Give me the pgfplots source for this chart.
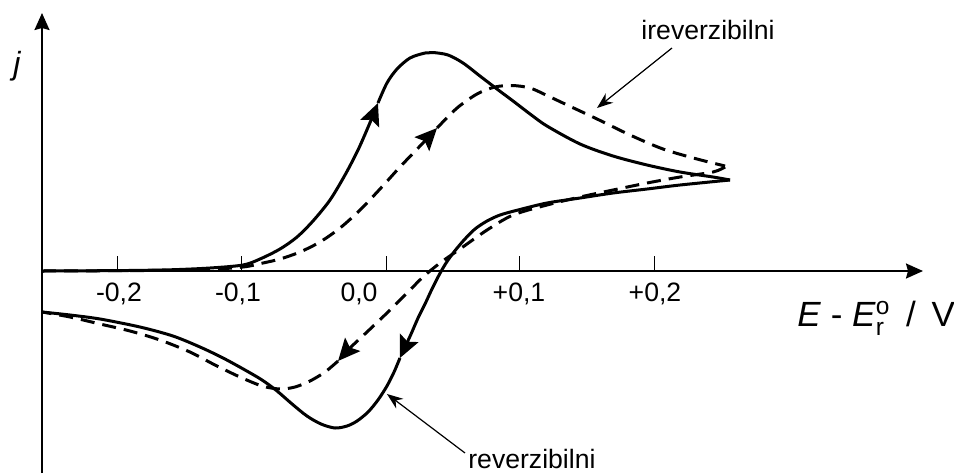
\documentclass[border=0pt]{standalone}
\usepackage{pgfplots}
\pgfplotsset{compat=1.18}
\usepackage{amsmath}
\usepackage{fontspec}
\setmainfont{Liberation Sans}
\usetikzlibrary{arrows.meta}

\begin{document}
\begin{tikzpicture}
\path[use as bounding box] (0,0) rectangle (477bp,-237.5bp);
\begin{axis}[
  at={(21bp,-236.5bp)}, anchor=south west,
  scale only axis, width=440.5bp, height=230bp,
  xmin=-0.2567, xmax=0.4007, ymin=-2.02, ymax=2.58,
  axis x line=middle, axis y line=left,
  axis line style={line width=1bp, -{Stealth[length=8.5bp,width=7.5bp,inset=1bp]}},
  xtick={-0.2,-0.1075,0,0.0993,0.2}, xticklabels={},
  ytick=\empty,
  tick align=inside, major tick length=7.5bp,
  every tick/.style={black, line width=0.5bp},
  clip=false,
  every axis plot/.append style={black, line width=1.5bp, line join=round},
]
% reversible (solid), forward scan
\addplot[smooth, -{Stealth[length=11bp,width=10bp,inset=2bp]}] coordinates {
 (-0.2567,0) (-0.2000,0.004) (-0.1612,0.012) (-0.1313,0.03) (-0.1067,0.06) (-0.0940,0.12)
 (-0.0791,0.22) (-0.0664,0.34) (-0.0545,0.50) (-0.0418,0.71) (-0.0306,0.96) (-0.0209,1.21)
 (-0.0127,1.46) (-0.0060,1.68)};
\addplot[smooth] coordinates {
 (-0.0060,1.68) (0.0007,1.88) (0.0082,2.02) (0.0179,2.13) (0.0291,2.18) (0.0351,2.185)
 (0.0463,2.16) (0.0575,2.08) (0.0701,1.95) (0.0828,1.82) (0.0948,1.70) (0.1075,1.57)
 (0.1201,1.45) (0.1448,1.27) (0.1694,1.15) (0.1948,1.06) (0.2194,0.99) (0.2440,0.94) (0.2567,0.91)};
% reversible, reverse scan
\addplot[smooth, -{Stealth[length=11bp,width=10bp,inset=2bp]}] coordinates {
 (0.2567,0.91) (0.2194,0.86) (0.1948,0.82) (0.1694,0.78) (0.1448,0.73) (0.1201,0.68)
 (0.0985,0.61) (0.0851,0.56) (0.0754,0.50) (0.0664,0.42) (0.0582,0.31) (0.0507,0.19)
 (0.0448,0.08) (0.0396,-0.04) (0.0343,-0.18) (0.0291,-0.33) (0.0239,-0.47) (0.0187,-0.63)
 (0.0142,-0.76) (0.0104,-0.87)};
\addplot[smooth] coordinates {
 (0.0104,-0.87) (0.0060,-1.01) (0.0007,-1.15) (-0.0060,-1.29) (-0.0134,-1.41) (-0.0216,-1.50)
 (-0.0291,-1.55) (-0.0381,-1.57) (-0.0485,-1.53) (-0.0590,-1.45) (-0.0701,-1.33) (-0.0813,-1.20)
 (-0.0925,-1.09) (-0.1052,-0.99) (-0.1216,-0.87) (-0.1388,-0.76) (-0.1590,-0.65) (-0.1836,-0.56)
 (-0.2134,-0.48) (-0.2358,-0.44) (-0.2567,-0.41)};
% irreversible (dashed), forward scan
\addplot[smooth, dash pattern=on 7bp off 4bp, -{Stealth[length=11bp,width=10bp,inset=2bp]}] coordinates {
 (-0.2567,0) (-0.1761,0.005) (-0.1388,0.01) (-0.1067,0.04) (-0.0918,0.08) (-0.0791,0.12)
 (-0.0642,0.19) (-0.0493,0.29) (-0.0343,0.43) (-0.0194,0.61) (-0.0045,0.82) (0.0104,1.04)
 (0.0254,1.25) (0.0381,1.43)};
\addplot[smooth, dash pattern=on 7bp off 4bp] coordinates {
 (0.0381,1.43) (0.0530,1.63) (0.0679,1.77) (0.0813,1.84) (0.0940,1.855) (0.1075,1.83)
 (0.1209,1.75) (0.1336,1.67) (0.1575,1.52) (0.1821,1.36) (0.2067,1.22) (0.2321,1.12) (0.2530,1.05)};
% irreversible, reverse scan
\addplot[smooth, dash pattern=on 7bp off 4bp, -{Stealth[length=11bp,width=10bp,inset=2bp]}] coordinates {
 (0.2530,1.04) (0.2440,0.99) (0.2194,0.94) (0.1948,0.88) (0.1694,0.81) (0.1448,0.74)
 (0.1201,0.66) (0.0948,0.56) (0.0754,0.41) (0.0552,0.22) (0.0403,0.08) (0.0276,-0.06)
 (0.0157,-0.22) (0.0007,-0.42) (-0.0142,-0.61) (-0.0269,-0.77) (-0.0358,-0.90)};
\addplot[smooth, dash pattern=on 7bp off 4bp] coordinates {
 (-0.0358,-0.90) (-0.0455,-1.01) (-0.0567,-1.10) (-0.0679,-1.16) (-0.0791,-1.18) (-0.0925,-1.15)
 (-0.1090,-1.06) (-0.1276,-0.94) (-0.1463,-0.81) (-0.1687,-0.69) (-0.1910,-0.60) (-0.2134,-0.53)
 (-0.2358,-0.46) (-0.2567,-0.41)};
\end{axis}
\begin{scope}[x=0.5bp,y=-0.5bp]
  \begin{scope}[font=\fontsize{13.3bp}{16bp}\selectfont]
    \node[anchor=base, inner sep=0] at (119,302) {-0,2};
    \node[anchor=base, inner sep=0] at (238,302) {-0,1};
    \node[anchor=base, inner sep=0] at (359,302) {0,0};
    \node[anchor=base, inner sep=0] at (519,302) {+0,1};
    \node[anchor=base, inner sep=0] at (655,302) {+0,2};
    \node[anchor=base, inner sep=0] at (708,39) {ireverzibilni};
    \node[anchor=base west, inner sep=0] at (468,469) {reverzibilni};
  \end{scope}
  \node[anchor=base, inner sep=0, font=\fontsize{16bp}{19bp}\selectfont\itshape] at (17,75) {j};
  \node[anchor=base west, inner sep=0, font=\fontsize{17.5bp}{20bp}\selectfont] at (797,327)
    {\textit{E} - \textit{E}$^{\text{o}}_{\text{r}}$\hspace{3bp} /\hspace{3bp} V};
  \draw[line width=0.6bp, -{Stealth[length=8bp,width=6bp]}] (672,48) -- (597,108);
  \draw[line width=0.6bp, -{Stealth[length=8bp,width=6bp]}] (465,453) -- (387,394);
\end{scope}
\end{tikzpicture}
\end{document}
